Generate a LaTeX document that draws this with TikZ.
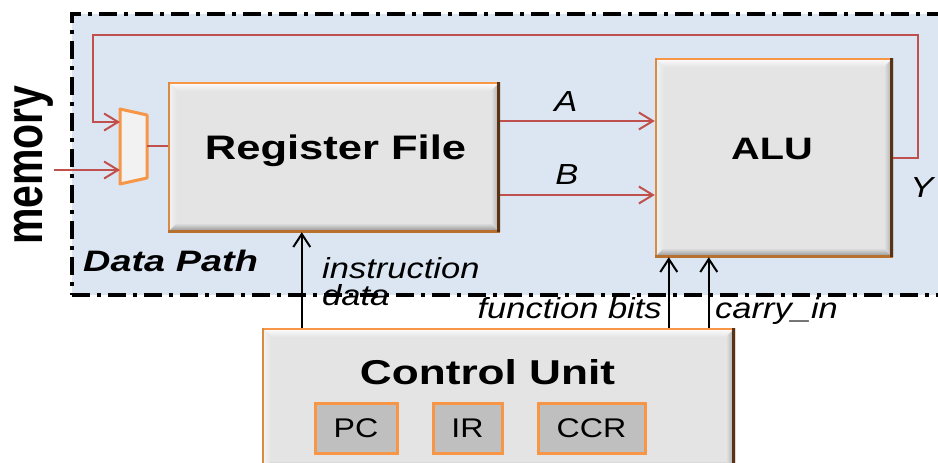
\documentclass[tikz,border=0pt]{standalone}
\usepackage{fontspec}
\setmainfont{Liberation Sans}
\newfontfamily\bigfont[FakeStretch=1.28]{Liberation Sans}
\newfontfamily\lblfont[FakeStretch=1.19]{Liberation Sans}
\usetikzlibrary{arrows.meta}

\definecolor{boxgray}{HTML}{E4E4E4}
\definecolor{dpblue}{HTML}{DCE6F2}
\definecolor{edgeorange}{HTML}{F79646}
\definecolor{edgeleft}{HTML}{D98A45}
\definecolor{edgebottom}{HTML}{B8702E}
\definecolor{edgebrown}{HTML}{5A3214}
\definecolor{wirered}{HTML}{C0504D}
\definecolor{reggray}{HTML}{BFBFBF}
\definecolor{muxfill}{HTML}{F2F2F2}

\tikzset{
  bevelbox/.style={rectangle, inner sep=0pt, fill=boxgray,
    path picture={
      \coordinate (bNW) at (path picture bounding box.north west);
      \coordinate (bNE) at (path picture bounding box.north east);
      \coordinate (bSW) at (path picture bounding box.south west);
      \coordinate (bSE) at (path picture bounding box.south east);
      % raised bevel: light top and left, darker bottom and right
      \fill[top color=white, bottom color=boxgray]
        (bNW) -- (bNE) -- ([xshift=-9pt,yshift=-9pt]bNE) -- ([xshift=9pt,yshift=-9pt]bNW) -- cycle;
      \fill[left color=white!60!boxgray, right color=boxgray]
        (bNW) -- ([xshift=9pt,yshift=-9pt]bNW) -- ([xshift=9pt,yshift=9pt]bSW) -- (bSW) -- cycle;
      \fill[top color=boxgray, bottom color=black!45]
        (bSW) -- ([xshift=9pt,yshift=9pt]bSW) -- ([xshift=-9pt,yshift=9pt]bSE) -- (bSE) -- cycle;
      \fill[left color=boxgray, right color=black!35]
        (bNE) -- ([xshift=-9pt,yshift=-9pt]bNE) -- ([xshift=-9pt,yshift=9pt]bSE) -- (bSE) -- cycle;
      % frame: orange, with a dark right edge
      \draw[edgeorange, line width=4pt] (bNW) -- (bNE);
      \draw[edgeleft, line width=4pt] (bNW) -- (bSW);
      \draw[edgebottom, line width=5pt] (bSW) -- (bSE);
      \draw[edgebrown, line width=6pt] (bNE) -- (bSE);
    }},
  regbox/.style={rectangle, fill=reggray, draw=edgeorange, line width=3pt,
    inner sep=0pt, font=\lblfont\fontsize{27}{30}\selectfont},
  dpregion/.style={rectangle, fill=dpblue, draw=black, line width=3.5pt,
    dash pattern=on 18pt off 7pt on 4pt off 7pt, inner sep=0pt},
  bigtxt/.style={inner sep=0pt, font=\bigfont\bfseries\fontsize{34}{40}\selectfont},
  lbl/.style={inner sep=0pt, font=\lblfont\itshape\fontsize{29}{30}\selectfont},
  redwire/.style={draw=wirered, line width=2pt},
  redarrow/.style={redwire, -{Straight Barb[length=14pt,width=17pt,line width=2pt]}},
  blkarrow/.style={draw=black, line width=2pt, -{Straight Barb[length=13pt,width=17pt,line width=2pt]}},
}

\begin{document}
\begin{tikzpicture}[x=1pt,y=-1pt]
\useasboundingbox (0,0) rectangle (938,463);

% data path region (runs past the right edge)
\node[dpregion, minimum width=890pt, minimum height=281pt, anchor=north west] (dp) at (70,12) {};
\node[anchor=base west, inner sep=0pt, font=\bigfont\bfseries\itshape\fontsize{29.6}{32}\selectfont] (dplbl) at (83,271) {Data Path};

% memory label
\node[rotate=90, anchor=base, inner sep=0pt, font=\bfseries\fontsize{41}{44}\selectfont] (mem) at (42,165) {\scalebox{1}[1.28]{memory}};

% multiplexer in front of the register file
\draw[fill=muxfill, draw=edgeorange, line width=3pt, line join=round]
  (120,109) -- (147,115) -- (147,178) -- (120,184) -- cycle;
\coordinate (muxin1) at (120,122);
\coordinate (muxin2) at (120,170);
\coordinate (muxout) at (147,146);
\coordinate (memin) at (54,170);

% main blocks
\node[bevelbox, minimum width=332pt, minimum height=150pt] (rf) at (334,157) {};
\node[bigtxt, anchor=base] (rflbl) at (335.5,159) {Register File};

\node[bevelbox, minimum width=238pt, minimum height=199pt] (alu) at (774,157.5) {};
\node[bigtxt, anchor=base, font=\bigfont\bfseries\fontsize{31}{36}\selectfont] (alulbl) at (772,159) {ALU};

\node[bevelbox, minimum width=473pt, minimum height=142pt] (cu) at (498.5,399) {};
\node[bigtxt, anchor=base, font=\bigfont\bfseries\fontsize{34.5}{40}\selectfont] (culbl) at (487.5,384) {Control Unit};

\node[regbox, minimum width=82pt, minimum height=50pt] (pc) at (356,428) {PC};
\node[regbox, minimum width=69pt, minimum height=50pt] (ir) at (467.5,428) {IR};
\node[regbox, minimum width=107pt, minimum height=50pt] (ccr) at (591.5,428) {CCR};

% data wires
\draw[redwire] (muxout) -- (muxout -| rf.west);
\draw[redarrow] (memin) -- (muxin2);
\draw[redarrow] ([yshift=36pt]rf.east) -- ([yshift=36pt]rf.east -| alu.west);
\draw[redarrow] ([yshift=-38pt]rf.east) -- ([yshift=-38pt]rf.east -| alu.west);
\coordinate (fbR) at (918,35);
\coordinate (fbL) at (93,35);
\draw[redarrow] (alu.east) -| (fbR) -- (fbL) |- (muxin1);

\node[lbl, anchor=base] (alab) at (566,111) {A};
\node[lbl, anchor=base] (blab) at (567,184) {B};
\node[lbl, anchor=base] (ylab) at (922,197) {Y};

% control signals
\draw[blkarrow] ([xshift=40pt]cu.north west) -- ([xshift=40pt]cu.north west |- rf.south);
\draw[blkarrow] ([xshift=14pt]alu.south west |- cu.north) -- ([xshift=14pt]alu.south west);
\draw[blkarrow] ([xshift=54pt]alu.south west |- cu.north) -- ([xshift=54pt]alu.south west);

\node[lbl, anchor=base west] (instrlbl) at (322,278) {instruction};
\node[lbl, anchor=base west] (datalbl) at (322,305) {data};
\node[lbl, anchor=base east] (fnlbl) at (662,318) {function bits};
\node[lbl, anchor=base west] (cylbl) at (715,318) {carry\_in};
\end{tikzpicture}
\end{document}
